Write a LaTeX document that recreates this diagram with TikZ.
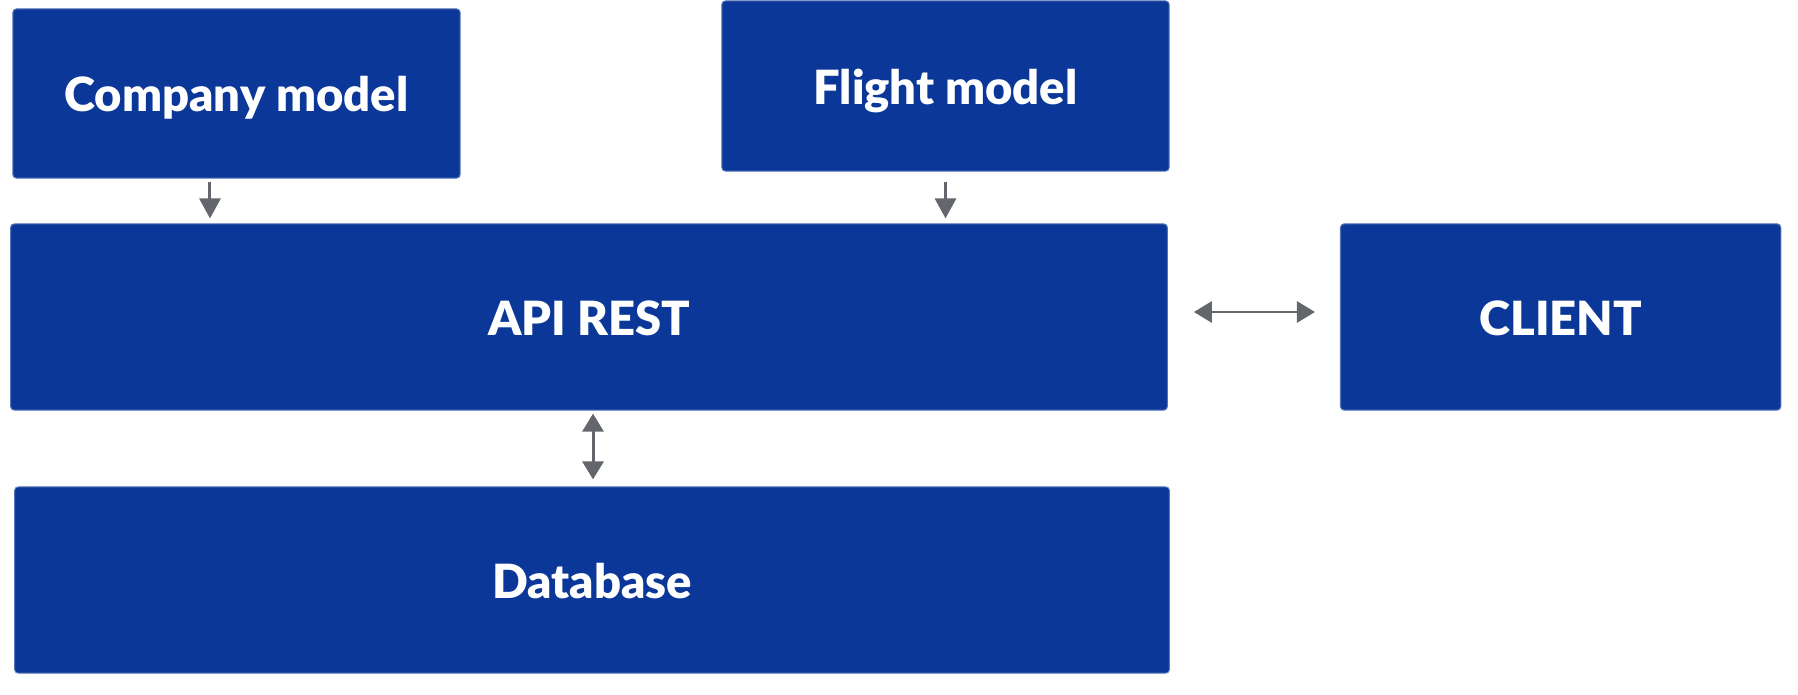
\documentclass[tikz,border=0pt]{standalone}
\usepackage{fontspec}
\setmainfont{Lato}[BoldFont=* Black]
\usepackage{xcolor}
\usetikzlibrary{arrows.meta, positioning, calc}
\definecolor{boxblue}{HTML}{0B3799}
\definecolor{arrowgray}{HTML}{63666A}

\begin{document}
\begin{tikzpicture}[
    x=0.01cm, y=-0.01cm,
    block/.style={rectangle, fill=boxblue, draw=boxblue!70!white, line width=0.3pt, rounded corners=1pt, inner sep=0pt, text=white, text height=0.36cm, text depth=0cm, font=\fontsize{13.4}{15}\selectfont\bfseries},
    arrow/.style={-{Triangle[length=0.2cm, width=0.21cm]}, line width=0.85pt, draw=arrowgray},
    biarrow/.style={{Triangle[length=0.18cm, width=0.21cm]}-{Triangle[length=0.18cm, width=0.21cm]}, line width=0.85pt, draw=arrowgray}
]

% Canvas
\useasboundingbox (0,0) rectangle (1798,694);

% Models
\node[block, minimum width=4.47cm, minimum height=1.69cm] (company) at (236.5, 93.5) {Company model};
\node[block, minimum width=4.47cm, minimum height=1.70cm] (flight) at (945.5, 86) {Flight model};

% Core
\node[block, minimum width=11.56cm, minimum height=1.86cm] (api) at (589, 317) {API REST};
\node[block, minimum width=4.40cm, minimum height=1.86cm, right=1.72cm of api.east, anchor=west] (client) {CLIENT};
\node[block, minimum width=11.54cm, minimum height=1.86cm] (db) at (592, 580) {Database};

% Model feeds
\draw[arrow, shorten <=0.03cm, shorten >=0.05cm] ([xshift=-0.265cm]company.south) -- ([xshift=-0.265cm]company.south |- api.north);
\draw[arrow, shorten <=0.1cm, shorten >=0.05cm] (flight.south) -- (flight.south |- api.north);

% Client link
\draw[biarrow, shorten <=0.26cm, shorten >=0.25cm] ([yshift=0.05cm]api.east) -- ([yshift=0.05cm]api.east -| client.west);

% Storage link
\draw[biarrow, shorten <=0.03cm, shorten >=0.07cm] ([xshift=0.04cm]api.south) -- ([xshift=0.04cm]api.south |- db.north);

\end{tikzpicture}
\end{document}
